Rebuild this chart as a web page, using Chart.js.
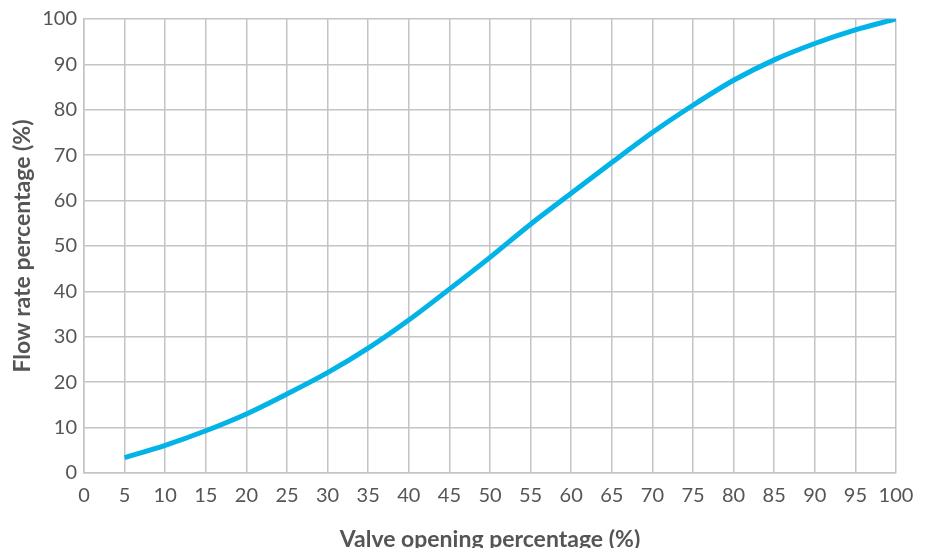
<!DOCTYPE html>
<html>
<head>
<meta charset="utf-8">
<script src="https://cdn.jsdelivr.net/npm/chart.js@4"></script>
<style>
  html, body { margin: 0; padding: 0; background: #fff; }
  #wrap { width: 927px; height: 548px; }
</style>
</head>
<body>
<div id="wrap"><canvas id="flowChart" width="927" height="548"></canvas></div>
<script>
// Valve opening (%) vs flow rate (%)
const aperturas = [5, 10, 15, 20, 25, 30, 35, 40, 45, 50, 55, 60, 65, 70, 75, 80, 85, 90, 95, 100];
const caudales = [3.4, 6.1, 9.3, 13.0, 17.4, 22.1, 27.5, 33.7, 40.5, 47.5, 54.8, 61.6, 68.4, 75.0, 81.0, 86.5, 91.0, 94.6, 97.6, 100];
const ticksX = [0, 5, 10, 15, 20, 25, 30, 35, 40, 45, 50, 55, 60, 65, 70, 75, 80, 85, 90, 95, 100];
const ticksY = [0, 10, 20, 30, 40, 50, 60, 70, 80, 90, 100];

const FUENTE = 'Lato, "Open Sans", sans-serif';
const GRIS = '#c4c4c4';
const TEXTO = '#555555';

const ctx = document.getElementById('flowChart').getContext('2d');

new Chart(ctx, {
    type: 'line',
    data: {
        datasets: [{
            data: aperturas.map((x, i) => ({ x: x, y: caudales[i] })),
            borderColor: '#02b3e8',
            borderWidth: 5,
            pointRadius: 0,
            cubicInterpolationMode: 'monotone',
            fill: false
        }]
    },
    options: {
        responsive: false,
        animation: false,
        layout: { padding: { left: 0, right: 31, top: 18, bottom: 0 } },
        plugins: { legend: { display: false }, tooltip: { enabled: false } },
        scales: {
            x: {
                type: 'linear',
                min: 0,
                max: 100,
                afterBuildTicks: s => { s.ticks = ticksX.map(v => ({ value: v })); },
                afterFit: s => { s.height = 75; },
                grid: { color: GRIS, lineWidth: 1.5, drawTicks: false },
                border: { color: GRIS, width: 1.5 },
                ticks: { color: TEXTO, padding: 11, maxRotation: 0, autoSkip: false,
                         font: { family: FUENTE, size: 20 } },
                title: { display: true, text: 'Valve opening percentage (%)', color: TEXTO,
                         font: { family: FUENTE, size: 23, weight: 'bold' },
                         padding: { top: 0, bottom: -5 } }
            },
            y: {
                min: 0,
                max: 100,
                afterBuildTicks: s => { s.ticks = ticksY.map(v => ({ value: v })); },
                afterFit: s => { s.width = 84; },
                grid: { color: GRIS, lineWidth: 1.5, drawTicks: false },
                border: { color: GRIS, width: 1.5 },
                ticks: { color: TEXTO, padding: 7, font: { family: FUENTE, size: 20 } },
                title: { display: true, text: 'Flow rate percentage (%)', color: TEXTO,
                         font: { family: FUENTE, size: 23, weight: 'bold' },
                         padding: { top: 9, bottom: 0 } }
            }
        }
    }
});
</script>
</body>
</html>
